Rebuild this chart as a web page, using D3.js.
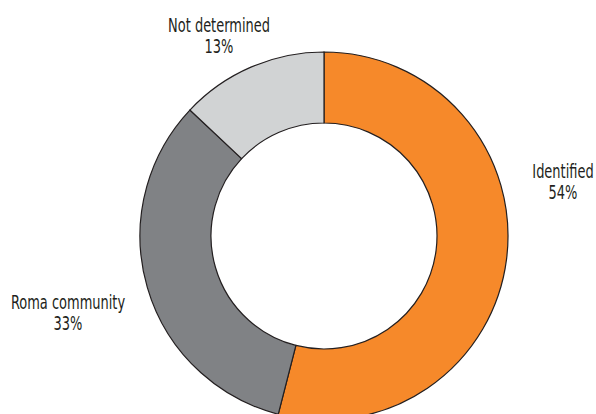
<!DOCTYPE html>
<html>
<head>
<meta charset="utf-8">
<script src="https://cdn.jsdelivr.net/npm/d3@7"></script>
<style>
  body { margin: 0; background: #fff; }
  text { font-family: "DejaVu Sans Condensed", "DejaVu Sans", sans-serif; font-stretch: condensed; fill: #231f20; }
</style>
</head>
<body>
<script>
// data
const categories = ["Identified", "Roma community", "Not determined"];
const shares = [54, 33, 13];
const colors = ["#f6892a", "#808285", "#d1d3d4"];

const width = 596, height = 414;
const cx = 324, cy = 236;
const outerR = 184, innerR = 113;

// label block: centre x, baseline of first line
const labelSpots = [[563, 178], [68, 309], [219, 32]];

const svg = d3.select("body").append("svg")
    .attr("width", width)
    .attr("height", height);

const pie = d3.pie().sort(null).value(d => d.value);
const arc = d3.arc().innerRadius(innerR).outerRadius(outerR);

const data = categories.map((c, i) => ({ name: c, value: shares[i], color: colors[i] }));

const g = svg.append("g").attr("transform", `translate(${cx},${cy})`);

g.selectAll("path")
    .data(pie(data))
    .join("path")
    .attr("d", arc)
    .attr("fill", d => d.data.color)
    .attr("stroke", "#231f20")
    .attr("stroke-width", 1.2);

// squeeze text a bit to get closer to the narrow original face
const labels = svg.append("g")
    .selectAll("text")
    .data(data)
    .join("text")
    .attr("text-anchor", "middle")
    .attr("font-size", 19)
    .attr("transform", (d, i) => `translate(${labelSpots[i][0]},${labelSpots[i][1]}) scale(0.76,1)`);

labels.append("tspan")
    .attr("x", 0)
    .attr("y", 0)
    .text(d => d.name);

labels.append("tspan")
    .attr("x", 0)
    .attr("y", 21)
    .text(d => d.value + "%");
</script>
</body>
</html>
